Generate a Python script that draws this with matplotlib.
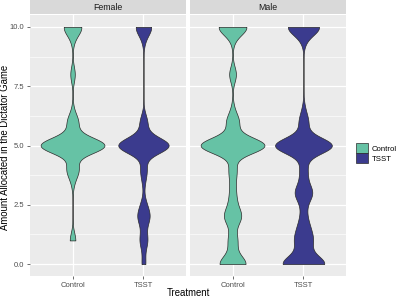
import numpy as np
import matplotlib.pyplot as plt
from matplotlib.patches import Patch

plt.rcParams['font.family'] = ['Liberation Sans', 'DejaVu Sans']

panels = ['Female', 'Male']
treatments = ['Control', 'TSST']
fills = ['#66C2A5', '#3B3B8E']
yticks = [0, 2.5, 5, 7.5, 10]
ytick_labels = ['0.0', '2.5', '5.0', '7.5', '10.0']

# amount allocated (0-10) and number of participants giving that amount
female_control_vals = [1, 3.5, 4, 5, 5.5, 6, 6.5, 8, 9.5, 10]
female_control_n = [5, 2, 10, 56, 2, 9, 1, 4, 2, 15]
female_tsst_vals = [0, 0.5, 1, 1.5, 2, 2.5, 3.5, 4, 5, 5.5, 6, 9.5, 10]
female_tsst_n = [3, 1, 6, 2, 9, 4, 2, 5, 44, 2, 6, 2, 13]
male_control_vals = [0, 0.5, 1, 1.5, 2, 2.5, 3, 3.5, 4, 5, 5.5, 6, 6.5, 8, 9.5, 10]
male_control_n = [22, 3, 7, 2, 13, 5, 4, 3, 6, 56, 2, 10, 2, 6, 2, 24]
male_tsst_vals = [0, 0.5, 1, 1.5, 2, 2.5, 3, 3.5, 4, 4.5, 5, 5.5, 6, 6.5, 9.5, 10]
male_tsst_n = [34, 6, 12, 8, 4, 3, 13, 4, 5, 2, 48, 2, 7, 2, 3, 26]

# violin widths (ggplot scale="area") and kernel bandwidth
widths = {'Female': [0.9, 0.71], 'Male': [0.9, 0.8]}
bw = 0.33

data = {
    'Female': [np.repeat(female_control_vals, female_control_n),
               np.repeat(female_tsst_vals, female_tsst_n)],
    'Male': [np.repeat(male_control_vals, male_control_n),
             np.repeat(male_tsst_vals, male_tsst_n)],
}

W, H = 400, 299
fig = plt.figure(figsize=(4, 2.99), dpi=100)

panel_left = [30, 190]
panel_w = 156
panel_top, panel_bot = 15, 276

for i, p in enumerate(panels):
    l = panel_left[i] / W
    ax = fig.add_axes([l, 1 - panel_bot / H, panel_w / W, (panel_bot - panel_top) / H])
    ax.set_facecolor('#EBEBEB')
    for s in ax.spines.values():
        s.set_visible(False)
    ax.set_xlim(0.4, 2.6)
    ax.set_ylim(-0.5, 10.5)
    ax.set_yticks(yticks)
    ax.set_yticks([1.25, 3.75, 6.25, 8.75], minor=True)
    ax.set_xticks([1, 2])
    ax.set_xticklabels(treatments)
    ax.grid(True, which='major', color='white', lw=0.9)
    ax.grid(True, which='minor', axis='y', color='white', lw=0.45)
    ax.set_axisbelow(True)
    ax.tick_params(which='major', length=2.5, width=0.5, color='#333333',
                   labelcolor='#4D4D4D', labelsize=5.5, pad=1.5)
    ax.tick_params(which='minor', length=0)
    if i == 0:
        ax.set_yticklabels(ytick_labels)
    else:
        ax.tick_params(axis='y', which='both', length=0, labelleft=False)

    for j, d in enumerate(data[p]):
        vp = ax.violinplot(d, positions=[j + 1], widths=widths[p][j], showextrema=False,
                           points=500, bw_method=bw / np.std(d, ddof=1))
        for b in vp['bodies']:
            b.set_facecolor(fills[j])
            b.set_edgecolor('#2B2B2B')
            b.set_linewidth(0.5)
            b.set_alpha(1)

    # facet strip
    sax = fig.add_axes([l, 1 - (panel_top - 1) / H, panel_w / W, (panel_top - 1) / H])
    sax.set_facecolor('#D9D9D9')
    sax.set_xticks([])
    sax.set_yticks([])
    for s in sax.spines.values():
        s.set_visible(False)
    sax.text(0.5, 0.5, p, ha='center', va='center', fontsize=6.3, color='#1A1A1A',
             transform=sax.transAxes)

fig.text(5.5 / W, 1 - 147 / H, 'Amount Allocated in the Dictator Game', rotation=90,
         ha='center', va='center', fontsize=6.9)
fig.text(188 / W, 1 - 293 / H, 'Treatment', ha='center', va='center', fontsize=6.9)

handles = [Patch(facecolor=c, edgecolor='#2B2B2B', linewidth=0.5) for c in fills]
fig.legend(handles, treatments, loc='center left', bbox_to_anchor=(354 / W, 1 - 153 / H),
           frameon=False, fontsize=5.6, handlelength=1.6, handleheight=1.6,
           labelspacing=0.0, handletextpad=0.5, borderpad=0.2, borderaxespad=0)

fig.savefig('out.png', dpi=100)
